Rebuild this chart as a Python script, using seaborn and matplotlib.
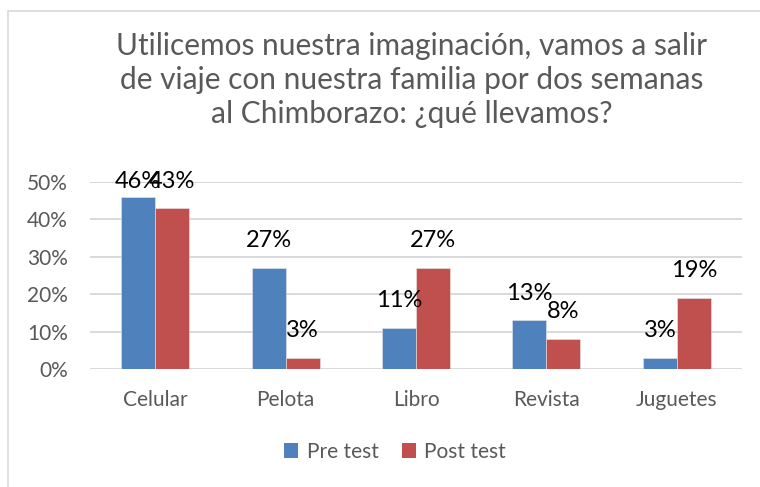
import pandas as pd
import matplotlib.pyplot as plt
import seaborn as sns
from matplotlib.ticker import PercentFormatter, MultipleLocator
from matplotlib.patches import Patch
from matplotlib.lines import Line2D

# Data (percent)
categorias = ['Celular', 'Pelota', 'Libro', 'Revista', 'Juguetes']
pre_test = [46, 27, 11, 13, 3]
post_test = [43, 3, 27, 8, 19]
series = ['Pre test', 'Post test']
colores = ['#4F81BD', '#C0504D']

df = pd.DataFrame({
    'categoria': categorias * 2,
    'valor': pre_test + post_test,
    'prueba': [series[0]] * len(categorias) + [series[1]] * len(categorias),
})

sns.set_style('white')
plt.rcParams['font.family'] = ['Lato', 'DejaVu Sans']
gris = '#595959'

fig = plt.figure(figsize=(7.6, 4.87), dpi=100)
ax = fig.add_axes([90 / 760, 1 - 369 / 487, (742 - 90) / 760, (369 - 182) / 487])

sns.barplot(data=df, x='categoria', y='valor', hue='prueba', palette=colores,
            width=0.52, gap=0, legend=False, ax=ax, saturation=1,
            edgecolor='#e8e8e8', linewidth=0.4)

ax.set_ylim(0, 50)
ax.set_xlim(-0.5, 4.5)
ax.yaxis.set_major_locator(MultipleLocator(10))
ax.yaxis.set_major_formatter(PercentFormatter(100, decimals=0))
ax.grid(axis='y', color='#D9D9D9', linewidth=1.4)
ax.set_axisbelow(True)
for s in ax.spines.values():
    s.set_visible(False)
ax.set_xlabel('')
ax.set_ylabel('')
ax.tick_params(axis='both', length=0, labelsize=15, labelcolor=gris)
ax.tick_params(axis='y', pad=16)
ax.tick_params(axis='x', pad=15)

# Data labels above each bar (clamped to plot top like Excel does)
for cont in ax.containers:
    for bar in cont:
        h = bar.get_height()
        x = bar.get_x() + bar.get_width() / 2
        ax.text(x, min(h + 7.3, 50.0), f'{h:.0f}%', ha='center', va='center',
                fontsize=17, color='black', clip_on=False)

fig.text(412 / 760, 1 - 80 / 487,
         'Utilicemos nuestra imaginación, vamos a salir\n'
         'de viaje con nuestra familia por dos semanas\n'
         'al Chimborazo: ¿qué llevamos?',
         ha='center', va='center', fontsize=21.5, color=gris, linespacing=1.27)

handles = [Patch(facecolor=c, edgecolor='none') for c in colores]
fig.legend(handles, series, loc='center', bbox_to_anchor=(395 / 760, 1 - 452 / 487),
           ncol=2, frameon=False, fontsize=15, labelcolor=gris,
           handlelength=0.7, handleheight=0.7, handletextpad=0.4, columnspacing=1.1)

# Chart border (top and left edges visible in the reference)
fig.add_artist(Line2D([8 / 760, 1], [1 - 11 / 487] * 2, color='#D9D9D9', lw=1.2,
                      transform=fig.transFigure))
fig.add_artist(Line2D([8 / 760] * 2, [0, 1 - 11 / 487], color='#D9D9D9', lw=1.2,
                      transform=fig.transFigure))

fig.savefig('out.png', dpi=100)
